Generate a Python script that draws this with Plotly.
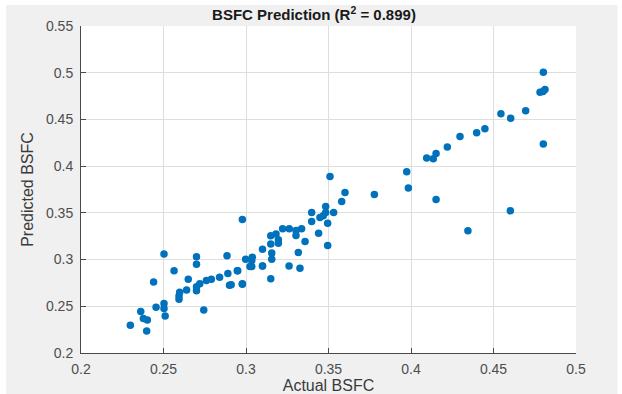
import plotly.graph_objects as go

actual = [
    0.2503, 0.270, 0.270, 0.2885, 0.2564, 0.244, 0.265, 0.2598, 0.2594, 0.2594,
    0.264, 0.270, 0.270, 0.272, 0.276, 0.279, 0.284, 0.289, 0.295, 0.290,
    0.2978, 0.2744, 0.2503, 0.2455, 0.2503, 0.251, 0.2362, 0.2378, 0.2402, 0.2299,
    0.2398, 0.2978, 0.2998, 0.3038, 0.3024, 0.2947, 0.291, 0.2978, 0.310, 0.315,
    0.3182, 0.3196, 0.315, 0.3196, 0.3156, 0.3156, 0.310, 0.315, 0.3222, 0.3262,
    0.3303, 0.3337, 0.3303, 0.3358, 0.3317, 0.3261, 0.3327, 0.3398, 0.3398, 0.344,
    0.3448, 0.3468, 0.3483, 0.3483, 0.3495, 0.3495, 0.3531, 0.3509, 0.360, 0.358,
    0.3778, 0.3974, 0.3984, 0.4802, 0.4782, 0.4812, 0.480, 0.4695, 0.4545, 0.4604,
    0.4448, 0.4398, 0.4297, 0.422, 0.4152, 0.4135, 0.4095, 0.4802, 0.4152, 0.4602,
    0.4345, 0.310, 0.3035, 0.3035,
]
predicted = [
    0.306, 0.303, 0.295, 0.304, 0.288, 0.276, 0.279, 0.265, 0.261, 0.2575,
    0.2675, 0.271, 0.2665, 0.274, 0.2775, 0.279, 0.281, 0.285, 0.288, 0.2725,
    0.274, 0.246, 0.253, 0.249, 0.2475, 0.2397, 0.2443, 0.237, 0.2354, 0.2297,
    0.2236, 0.3429, 0.3004, 0.3026, 0.2925, 0.288, 0.273, 0.2736, 0.311, 0.3254,
    0.3275, 0.3211, 0.3168, 0.3176, 0.3069, 0.3004, 0.293, 0.2796, 0.3329, 0.3329,
    0.3311, 0.3329, 0.3257, 0.3193, 0.3075, 0.293, 0.2908, 0.3505, 0.3408, 0.3283,
    0.3451, 0.3469, 0.3569, 0.3505, 0.339, 0.315, 0.3505, 0.389, 0.3718, 0.3622,
    0.3697, 0.394, 0.3765, 0.5004, 0.479, 0.4819, 0.480, 0.4594, 0.4562, 0.4512,
    0.4401, 0.4358, 0.4318, 0.4204, 0.4136, 0.4079, 0.4086, 0.4236, 0.3644, 0.3522,
    0.3308, 0.293, 0.2925, 0.2990,
]

x_ticks = [0.2, 0.25, 0.3, 0.35, 0.4, 0.45, 0.5]
y_ticks = [0.2, 0.25, 0.3, 0.35, 0.4, 0.45, 0.5, 0.55]

W, H = 622, 394
L, R, T, B = 81, 576.5, 26, 353

fig = go.Figure()
fig.add_trace(go.Scatter(
    x=actual, y=predicted, mode="markers",
    marker=dict(color="#0072BD", size=7.5, line=dict(width=0)),
    showlegend=False,
))

pw, ph = R - L, B - T
def px(xp):
    return (xp - L) / pw
def py(yp):
    return (B - yp) / ph

shapes = [
    dict(type="rect", xref="paper", yref="paper", layer="below",
         x0=px(6), x1=px(618), y0=py(400), y1=py(5),
         fillcolor="#f0f0f0", line=dict(width=0)),
    dict(type="rect", xref="paper", yref="paper", layer="below",
         x0=0, x1=1, y0=0, y1=1,
         fillcolor="#ffffff", line=dict(width=0)),
]

FONT = "Liberation Sans, Arial, sans-serif"
axis_font = dict(family=FONT, size=14, color="#4d4d4d")
title_font = dict(family=FONT, size=16, color="#3a3a3a")

common = dict(
    showgrid=True, gridcolor="#dedede", gridwidth=1,
    showline=True, linecolor="#4a4a4a", linewidth=1, mirror=False,
    ticks="inside", ticklen=5, tickcolor="#4a4a4a",
    zeroline=False, tickfont=axis_font, automargin=False,
)

fig.update_layout(
    width=W, height=H,
    margin=dict(l=L, r=W - R, t=T, b=H - B, pad=0, autoexpand=False),
    paper_bgcolor="#ffffff",
    plot_bgcolor="#ffffff",
    shapes=shapes,
    title=dict(
        text="<b>BSFC Prediction (R<sup>2</sup> = 0.899)</b>",
        x=314 / W, xref="container", xanchor="center",
        y=1 - 15 / H, yref="container", yanchor="middle",
        font=dict(family=FONT, size=15, color="#1a1a1a"),
    ),
    xaxis=dict(
        range=[0.2, 0.5], tickvals=x_ticks, ticktext=[f"{v:g}" for v in x_ticks],
        ticklabelstandoff=3,
        title=dict(text="Actual BSFC", font=title_font, standoff=4),
        **common,
    ),
    yaxis=dict(
        range=[0.2, 0.55], tickvals=y_ticks, ticktext=[f"{v:g}" for v in y_ticks],
        ticklabelstandoff=4,
        title=dict(text="Predicted BSFC", font=title_font, standoff=8),
        **common,
    ),
)

fig.write_html("out.html")
